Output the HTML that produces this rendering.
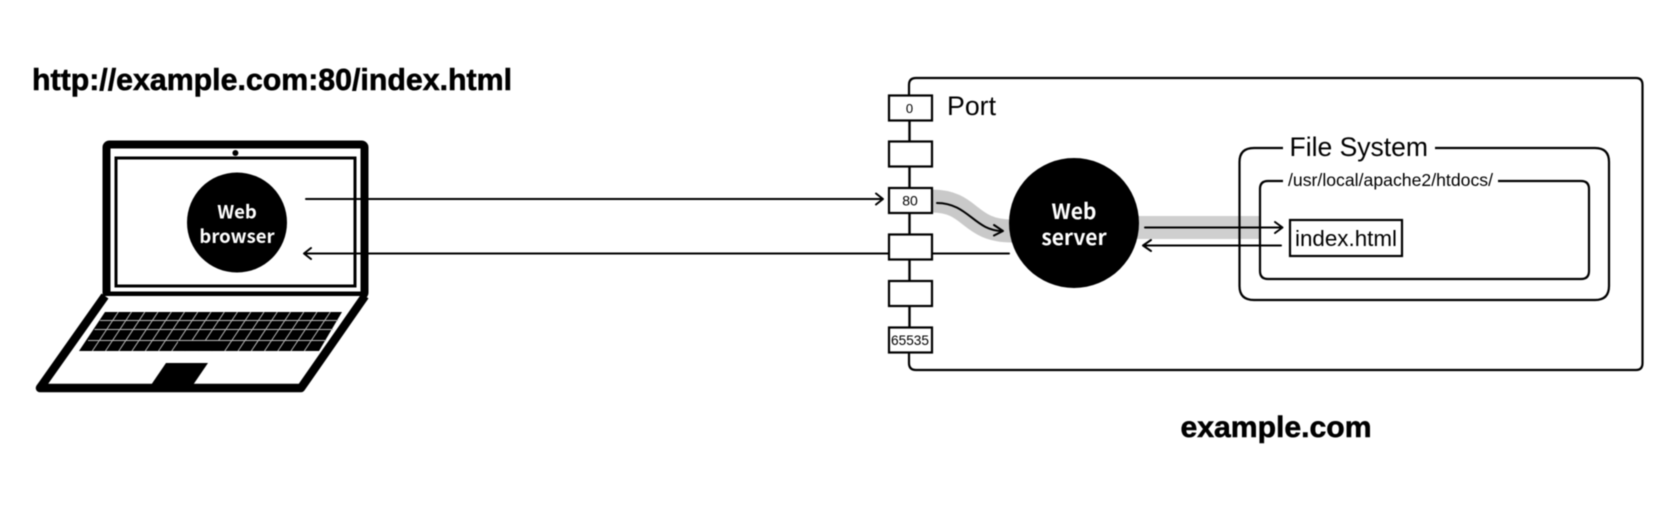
<!DOCTYPE html>
<html><head><meta charset="utf-8"><style>
html,body{margin:0;padding:0;background:#fff;width:1677px;height:513px;overflow:hidden}
svg{display:block;filter:blur(.45px)}
text{font-family:"Liberation Sans",sans-serif;fill:#000}
.b{stroke:#000;stroke-width:.55px}
.n{font-family:"Noto Sans CJK JP","Liberation Sans",sans-serif;font-weight:700;fill:#fff;text-anchor:middle}
</style></head><body>
<svg width="1677" height="513" viewBox="0 0 1677 513" xmlns="http://www.w3.org/2000/svg">
<rect width="1677" height="513" fill="#fff"/>
<text class="b" x="32" y="90" font-size="30.3" font-weight="700" textLength="480" lengthAdjust="spacingAndGlyphs">http://example.com:80/index.html</text>
<text class="b" x="1180.5" y="437" font-size="30" font-weight="700" textLength="191" lengthAdjust="spacingAndGlyphs">example.com</text>

<!-- laptop -->
<rect x="106.5" y="144.5" width="258" height="151" rx="3" fill="#fff" stroke="#000" stroke-width="8"/>
<rect x="116" y="158" width="239" height="128" fill="none" stroke="#000" stroke-width="3"/>
<circle cx="235.4" cy="153" r="3" fill="#000"/>
<path d="M105 296 L40 388 L301 388 L365 296" fill="#fff" stroke="#000" stroke-width="8.500" stroke-linejoin="round"/>
<path d="M105 312 L342 312 L319 351 L79 351Z" fill="#000"/>
<g stroke="#b8b8b8" stroke-width="1" fill="none">
<path d="M100 320.5H338M94.5 329.5H333M88 340.5H326"/>
<path d="M118.3 312L92.3 351M131.5 312L105.5 351M144.8 312L118.8 351M158 312L132 351M171.3 312L145.3 351M184.5 312L158.5 351M197.8 312L171.8 351M211 312L185 351M224.3 312L198.3 351M237.5 312L211.5 351M250.8 312L224.8 351M264 312L238 351M277.3 312L251.3 351M290.5 312L264.5 351M303.8 312L277.8 351M317 312L291 351M330.3 312L304.3 351"/>
</g>
<rect x="178" y="341" width="45" height="10" fill="#000"/>
<path d="M166 363 L208 363 L193 385 L151 385Z" fill="#000"/>
<circle cx="237" cy="222.5" r="50" fill="#000"/>
<text class="n" x="237" y="218.500" font-size="18.500">Web</text>
<text class="n" x="237" y="243" font-size="18.500">browser</text>

<!-- server box -->
<path d="M909 95 V85 Q909 78 916 78 H1636 Q1642.5 78 1642.5 85 V363 Q1642.5 370 1636 370 H916 Q909 370 909 363 V353" fill="none" stroke="#000" stroke-width="2.200"/>
<path d="M909.500 120V327" stroke="#000" stroke-width="2.400"/>

<!-- gray bands -->
<path d="M932 201 C972 201 968 231 1012 231" fill="none" stroke="#c9c9c9" stroke-width="23"/>
<rect x="1135" y="216" width="125" height="23" fill="#cfcfcf"/>

<!-- filesystem boxes -->
<path d="M1283 148 H1254 Q1239.5 148 1239.5 162 V286 Q1239.5 300 1254 300 H1595 Q1609 300 1609 286 V162 Q1609 148 1595 148 H1435" fill="none" stroke="#000" stroke-width="2.200"/>
<path d="M1283 181 H1268 Q1260 181 1260 189 V271 Q1260 279 1268 279 H1581 Q1589 279 1589 271 V189 Q1589 181 1581 181 H1498" fill="none" stroke="#000" stroke-width="2.200"/>
<text x="1289.5" y="156" font-size="26.5" textLength="138.5" lengthAdjust="spacingAndGlyphs">File System</text>
<text x="1288" y="186" font-size="17.6" textLength="205" lengthAdjust="spacingAndGlyphs">/usr/local/apache2/htdocs/</text>
<rect x="1290" y="220" width="112" height="36" fill="#fff" stroke="#000" stroke-width="2.200"/>
<text x="1295" y="246" font-size="22.4" textLength="102" lengthAdjust="spacingAndGlyphs">index.html</text>
<text x="947" y="115" font-size="26.5" textLength="49" lengthAdjust="spacingAndGlyphs">Port</text>

<!-- connectors -->
<g fill="none" stroke="#000" stroke-width="2" stroke-linecap="round" stroke-linejoin="round">
<path d="M306 199 H882"/>
<path d="M876 193.5 L883 199 L876 204.5"/>
<path d="M1009 253.500 H305"/>
<path d="M311 248 L304 253.500 L311 259"/>
<path d="M937 203 C968 203 975 231 1002 231"/>
<path d="M994 225 L1003 231 L994 235.5"/>
<path d="M1145 227.5 H1282"/>
<path d="M1275 222 L1282.5 227.5 L1275 233"/>
<path d="M1281 245.5 H1144"/>
<path d="M1151 240 L1143 245.5 L1151 251"/>
</g>

<!-- ports -->
<g fill="#fff" stroke="#000" stroke-width="2.200">
<rect x="889" y="95.500" width="43" height="25"/>
<rect x="889" y="141.5" width="43" height="25"/>
<rect x="889" y="188" width="43" height="25"/>
<rect x="889" y="234.5" width="43" height="25"/>
<rect x="889" y="281" width="43" height="25"/>
<rect x="889" y="327.5" width="43" height="25"/>
</g>
<g font-size="13" text-anchor="middle">
<text x="909.5" y="113">0</text>
<text x="910" y="205.5" font-size="14">80</text>
<text x="910" y="345" font-size="13.5" textLength="38" lengthAdjust="spacingAndGlyphs">65535</text>
</g>

<!-- web server -->
<circle cx="1074" cy="223" r="65" fill="#000"/>
<text class="n" x="1074" y="219" font-size="21">Web</text>
<text class="n" x="1074" y="245" font-size="21">server</text>
</svg>
</body></html>
